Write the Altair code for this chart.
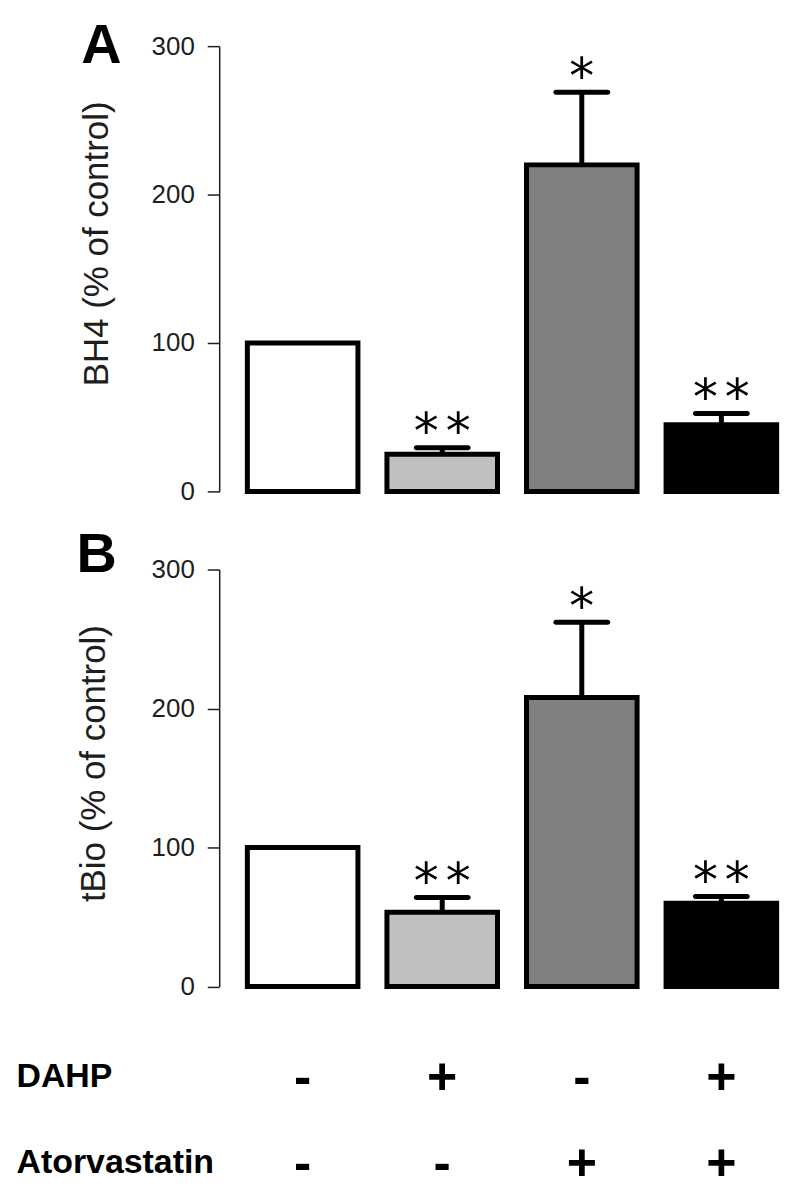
import altair as alt
import pandas as pd

# ---- data ----
conditions = ["Control", "DAHP", "Atorvastatin", "DAHP + Atorvastatin"]
fills = ["#ffffff", "#c0c0c0", "#808080", "#000000"]

bh4_mean = [100, 25, 220, 45]
bh4_sem = [0, 4.5, 49, 7.5]
bh4_sig = ["", "**", "*", "**"]

tbio_mean = [100, 53.5, 208, 60]
tbio_sem = [0, 10.5, 54, 4.7]
tbio_sig = ["", "**", "*", "**"]

y_ticks = [0, 100, 200, 300]

row_names = ["DAHP", "Atorvastatin"]
dahp_signs = ["-", "+", "-", "+"]
atorva_signs = ["-", "-", "+", "+"]

FONT = "Liberation Sans"
STAR_FONT = "DejaVu Sans"
W = 570


def xscale():
    return alt.Scale(type="band", domain=conditions, paddingInner=0.2077,
                     paddingOuter=0.138, align=0.731, round=False)


def panel(mean, sem, sig, title, letter, height, title_x, title_y, letter_x, letter_y):
    df = pd.DataFrame({
        "cond": conditions,
        "mean": mean,
        "sem": sem,
        "upper": [m + s for m, s in zip(mean, sem)],
        "sig": sig,
    })
    yscale = alt.Scale(domain=[0, 300], nice=False)
    base = alt.Chart(df).encode(
        x=alt.X("cond:N", scale=xscale(), axis=None, bandPosition=0.5))

    bars = alt.Chart(df).mark_bar(stroke="black", strokeWidth=5, strokeJoin="miter").encode(
        x=alt.X("cond:N", scale=xscale(), axis=None),
        y=alt.Y("mean:Q", scale=yscale,
                axis=alt.Axis(values=y_ticks, title=title, grid=False,
                              titleFont=FONT, titleFontSize=35, titleFontWeight="normal",
                              titleColor="#1e1e1e", titleAngle=270,
                              titleBaseline="alphabetic", titleAlign="center",
                              titleX=title_x, titleY=title_y,
                              labelFont=FONT, labelFontSize=26, labelColor="#1e1e1e",
                              labelPadding=13, tickSize=12, tickWidth=1.5,
                              tickColor="#1e1e1e", domainColor="#1e1e1e",
                              domainWidth=1.5)),
        fill=alt.Fill("cond:N", scale=alt.Scale(domain=conditions, range=fills),
                      legend=None),
    )
    err = base.transform_filter("datum.sem > 0")
    stems = err.mark_rule(color="black", strokeWidth=5).encode(
        y="mean:Q", y2="upper:Q")
    caps = err.mark_tick(color="black", thickness=5, size=57, opacity=1,
                         cornerRadius=2.5).encode(y="upper:Q")

    star_kw = dict(text="*", font=STAR_FONT, fontSize=50, baseline="alphabetic",
                   color="black", dy=0.5)
    one = base.transform_filter("datum.sig == '*'").mark_text(**star_kw).encode(
        y="upper:Q")
    two_a = base.transform_filter("datum.sig == '**'").mark_text(dx=-16, **star_kw).encode(
        y="upper:Q")
    two_b = base.transform_filter("datum.sig == '**'").mark_text(dx=16, **star_kw).encode(
        y="upper:Q")

    lab = alt.Chart(pd.DataFrame({"t": [letter]})).mark_text(
        font=FONT, fontSize=56, fontWeight="bold", align="left",
        baseline="alphabetic", color="black").encode(
        text="t:N", x=alt.value(letter_x), y=alt.value(letter_y))

    return alt.layer(bars, stems, caps, one, two_a, two_b, lab).properties(
        width=W, height=height)


panel_a = panel(bh4_mean, bh4_sem, bh4_sig, "BH4 (% of control)", "A", 447,
                -112.5, 198, -138.5, 16.7)
panel_b = panel(tbio_mean, tbio_sem, tbio_sig, "tBio (% of control)", "B", 418.6,
                -115.5, 194.3, -143.3, 2.3)

signs_df = pd.DataFrame({
    "cond": conditions * 2,
    "row": [row_names[0]] * 4 + [row_names[1]] * 4,
    "sign": dahp_signs + atorva_signs,
})

signs = alt.Chart(signs_df).mark_text(
    font=FONT, fontSize=52, fontWeight="bold", baseline="alphabetic",
    align="center", dy=18.4, color="black").encode(
    x=alt.X("cond:N", scale=xscale(), axis=None, bandPosition=0.5),
    y=alt.Y("row:N", sort=row_names,
            scale=alt.Scale(type="point", padding=0.12),
            axis=alt.Axis(title=None, domain=False, ticks=False, tickSize=0,
                          labelAlign="left", labelPadding=204, labelFont=FONT,
                          labelFontSize=34, labelFontWeight="bold", labelLimit=0,
                          labelColor="black", labelBaseline="alphabetic",
                          labelOffset=11.5)),
    text="sign:N",
).properties(width=W, height=107)

chart = alt.vconcat(panel_a, panel_b, signs, spacing=78.4, bounds="flush").properties(
    padding={"left": 8, "top": 7, "right": 5, "bottom": 5}
).configure_view(stroke=None)

chart.save("out.html", embed_options={"renderer": "svg", "actions": False})
